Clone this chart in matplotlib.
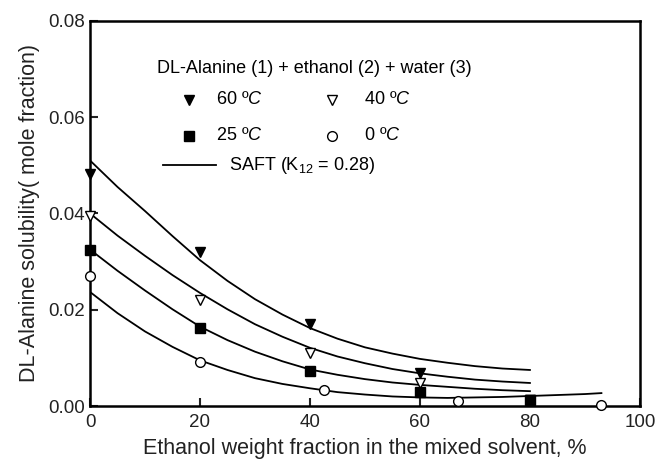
import numpy as np
import matplotlib.pyplot as plt

plt.rcParams['font.family'] = ['Liberation Sans', 'DejaVu Sans']
plt.rcParams['mathtext.fontset'] = 'custom'
plt.rcParams['mathtext.rm'] = 'Liberation Sans'
plt.rcParams['mathtext.it'] = 'Liberation Sans:italic'

# experimental points
x_exp = [0, 20, 40, 60, 80]
y_60 = [0.0482, 0.0320, 0.0170, 0.0069, 0.0012]
y_40 = [0.0395, 0.0220, 0.0110, 0.0048, 0.0012]
y_25 = [0.0324, 0.0162, 0.0073, 0.0029, 0.0012]
x_0 = [0, 20, 42.5, 67, 93]
y_0 = [0.0270, 0.0092, 0.0033, 0.0010, 0.0002]

# SAFT curves (every 5 %)
x_saft = [0, 5, 10, 15, 20, 25, 30, 35, 40, 45, 50, 55, 60, 65, 70, 75, 80]
saft_60 = [0.0510, 0.0455, 0.0405, 0.0353, 0.0303, 0.0260, 0.0222, 0.0190, 0.0162,
           0.0140, 0.0122, 0.0109, 0.0098, 0.0090, 0.0083, 0.0078, 0.0075]
saft_40 = [0.0400, 0.0354, 0.0312, 0.0272, 0.0235, 0.0201, 0.0170, 0.0144, 0.0121,
           0.0103, 0.0089, 0.0077, 0.0068, 0.0061, 0.0055, 0.0051, 0.0048]
saft_25 = [0.0325, 0.0281, 0.0240, 0.0201, 0.0165, 0.0137, 0.0113, 0.0093, 0.0076,
           0.0065, 0.0056, 0.0049, 0.0044, 0.0040, 0.0036, 0.0033, 0.0031]
x_saft0 = [0, 5, 10, 15, 20, 25, 30, 35, 40, 45, 50, 55, 60, 65, 70, 75, 80, 85, 90, 93]
saft_0 = [0.0237, 0.0193, 0.0155, 0.0123, 0.0095, 0.0075, 0.0058, 0.0046, 0.0037, 0.0029,
          0.0024, 0.0020, 0.0018, 0.0017, 0.0018, 0.0019, 0.0021, 0.0023, 0.0025, 0.0027]

fig = plt.figure(figsize=(6.57, 4.62), dpi=100)
ax = fig.add_axes([0.137, 0.121, 0.837, 0.834])

lw = 1.3
ax.plot(x_saft, saft_60, 'k-', lw=lw)
ax.plot(x_saft, saft_40, 'k-', lw=lw)
ax.plot(x_saft, saft_25, 'k-', lw=lw)
ax.plot(x_saft0, saft_0, 'k-', lw=lw)

ms = 7.5
ax.plot(x_exp, y_60, 'kv', ms=ms, clip_on=False, zorder=5)
ax.plot(x_exp, y_40, 'v', mfc='white', mec='k', ms=ms, clip_on=False, zorder=5)
ax.plot(x_exp, y_25, 'ks', ms=ms - 0.5, clip_on=False, zorder=5)
ax.plot(x_0, y_0, 'o', mfc='white', mec='k', ms=ms - 0.5, clip_on=False, zorder=5)

ax.set_xlim(0, 100)
ax.set_ylim(0, 0.08)
ax.set_xticks([0, 20, 40, 60, 80, 100])
ax.set_yticks([0, 0.02, 0.04, 0.06, 0.08])
ax.set_yticklabels(['0.00', '0.02', '0.04', '0.06', '0.08'])
ax.tick_params(direction='in', length=6, width=1.5, labelsize=13.5, colors='#222222')
ax.tick_params(axis='x', pad=6)
for s in ax.spines.values():
    s.set_linewidth(1.8)

ax.set_xlabel('Ethanol weight fraction in the mixed solvent, %', fontsize=15.5, color='#222222', labelpad=5)
ax.set_ylabel('DL-Alanine solubility( mole fraction)', fontsize=15.5, color='#222222', labelpad=6)

# legend drawn by hand
tr = ax.transAxes
fs = 13
ax.text(0.121, 0.875, 'DL-Alanine (1) + ethanol (2) + water (3)', transform=tr, fontsize=fs, va='center')
ax.plot([0.18], [0.795], 'kv', ms=ms, transform=tr)
ax.text(0.23, 0.795, r'60 º$\mathit{C}$', transform=tr, fontsize=fs, va='center')
ax.plot([0.44], [0.795], 'v', mfc='white', mec='k', ms=ms, transform=tr)
ax.text(0.498, 0.795, r'40 º$\mathit{C}$', transform=tr, fontsize=fs, va='center')
ax.plot([0.18], [0.702], 'ks', ms=ms - 0.5, transform=tr)
ax.text(0.23, 0.702, r'25 º$\mathit{C}$', transform=tr, fontsize=fs, va='center')
ax.plot([0.44], [0.702], 'o', mfc='white', mec='k', ms=ms - 0.5, transform=tr)
ax.text(0.498, 0.702, r'0 º$\mathit{C}$', transform=tr, fontsize=fs, va='center')
ax.plot([0.132, 0.23], [0.625, 0.625], 'k-', lw=lw, transform=tr)
ax.text(0.252, 0.625, r'SAFT (K$_{12}$ = 0.28)', transform=tr, fontsize=fs, va='center')

fig.savefig('out.png', dpi=100)
